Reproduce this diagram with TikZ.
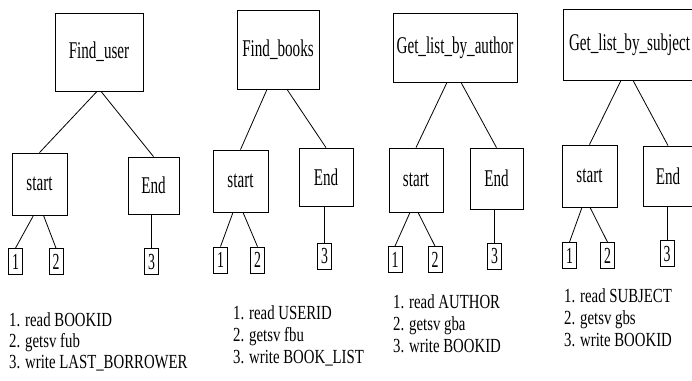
\documentclass[tikz,border=0pt]{standalone}
\usepackage{fontspec}
\usepackage{graphicx}
\setmainfont{Liberation Serif}
\newcommand{\lbltxt}[1]{\scalebox{0.63}[1]{\fontsize{24}{24}\selectfont #1}}
\newcommand{\digtxt}[1]{\scalebox{0.6}[1]{\fontsize{23}{23}\selectfont #1}}
\newcommand{\lsttxt}[1]{\scalebox{0.74}[1]{\fontsize{20}{20}\selectfont #1}}
\begin{document}
\begin{tikzpicture}[x=1pt,y=-1pt,
  box/.style={draw, line width=0.8pt, inner sep=0pt},
  small/.style={draw, line width=0.8pt, inner sep=0pt, minimum width=14pt, minimum height=26pt},
  conn/.style={line width=0.8pt},
  item/.style={anchor=base west, inner sep=0pt}]
\useasboundingbox (0,0) rectangle (692,380);
\clip (0,0) rectangle (692,380);
% Group 1
\node[box, minimum width=88pt, minimum height=78pt] (fu) at (99,52) {\lbltxt{Find\_user}};
\node[box, minimum width=55pt, minimum height=62pt] (s1) at (39.5,184) {\lbltxt{start}};
\node[box, minimum width=51pt, minimum height=57pt] (e1) at (153.5,185.5) {\lbltxt{End}};
\node[small] (a1) at (15.5,261.5) {\digtxt{1}};
\node[small] (b1) at (56,261.5) {\digtxt{2}};
\node[small] (c1) at (151.5,261.5) {\digtxt{3}};
\draw[conn] ([xshift=-2]fu.south) -- (s1.north);
\draw[conn] ([xshift=2]fu.south) -- (e1.north);
\draw[conn] ([xshift=-6]s1.south) -- (a1.north);
\draw[conn] ([xshift=4]s1.south) -- (b1.north);
\draw[conn] (c1.north |- e1.south) -- (c1.north);
\node[item] (t11) at (9,326) {\lsttxt{1. read BOOKID}};
\node[item] (t12) at (9,347) {\lsttxt{2. getsv fub}};
\node[item] (t13) at (9,368) {\lsttxt{3. write LAST\_BORROWER}};
% Group 2
\node[box, minimum width=82pt, minimum height=79pt] (fb) at (278,49.5) {\lbltxt{Find\_books}};
\node[box, minimum width=55pt, minimum height=62pt] (s2) at (240.5,181) {\lbltxt{start}};
\node[box, minimum width=54pt, minimum height=58pt] (e2) at (326,177) {\lbltxt{End}};
\node[small] (a2) at (220.5,260) {\digtxt{1}};
\node[small] (b2) at (257.5,260) {\digtxt{2}};
\node[small] (c2) at (324.5,256) {\digtxt{3}};
\draw[conn] ([xshift=-11]fb.south) -- (s2.north);
\draw[conn] ([xshift=9]fb.south) -- (e2.north);
\draw[conn] ([xshift=-7.5]s2.south) -- (a2.north);
\draw[conn] ([xshift=2.5]s2.south) -- (b2.north);
\draw[conn] (c2.north |- e2.south) -- (c2.north);
\node[item] (t21) at (233,319) {\lsttxt{1. read USERID}};
\node[item] (t22) at (233,341) {\lsttxt{2. getsv fbu}};
\node[item] (t23) at (233,363) {\lsttxt{3. write BOOK\_LIST}};
% Group 3
\node[box, minimum width=124pt, minimum height=69pt] (ga) at (455,47.5) {\lbltxt{Get\_list\_by\_author}};
\node[box, minimum width=54pt, minimum height=64pt] (s3) at (416,180) {\lbltxt{start}};
\node[box, minimum width=53pt, minimum height=61pt] (e3) at (496.5,178.5) {\lbltxt{End}};
\node[small] (a3) at (395,259.5) {\digtxt{1}};
\node[small] (b3) at (435,259.5) {\digtxt{2}};
\node[small] (c3) at (494.5,256) {\digtxt{3}};
\draw[conn] ([xshift=-8]ga.south) -- (s3.north);
\draw[conn] ([xshift=6]ga.south) -- (e3.north);
\draw[conn] ([xshift=-6]s3.south) -- (a3.north);
\draw[conn] ([xshift=2]s3.south) -- (b3.north);
\draw[conn] (c3.north |- e3.south) -- (c3.north);
\node[item] (t31) at (393,308) {\lsttxt{1. read AUTHOR}};
\node[item] (t32) at (393,330) {\lsttxt{2. getsv gba}};
\node[item] (t33) at (393,352) {\lsttxt{3. write BOOKID}};
% Group 4
\node[box, minimum width=133pt, minimum height=71pt] (gs) at (629.5,44.5) {\lbltxt{Get\_list\_by\_subject}};
\node[box, minimum width=55pt, minimum height=62pt] (s4) at (589.5,176) {\lbltxt{start}};
\node[box, minimum width=50pt, minimum height=60pt] (e4) at (668,176) {\lbltxt{End}};
\node[small] (a4) at (569.5,255.5) {\digtxt{1}};
\node[small] (b4) at (607.5,255.5) {\digtxt{2}};
\node[small] (c4) at (667,253.5) {\digtxt{3}};
\draw[conn] ([xshift=-8.5]gs.south) -- (s4.north);
\draw[conn] ([xshift=3.5]gs.south) -- (e4.north);
\draw[conn] ([xshift=-7.5]s4.south) -- (a4.north);
\draw[conn] ([xshift=0.5]s4.south) -- (b4.north);
\draw[conn] (c4.north |- e4.south) -- (c4.north);
\node[item] (t41) at (564,302) {\lsttxt{1. read SUBJECT}};
\node[item] (t42) at (564,324) {\lsttxt{2. getsv gbs}};
\node[item] (t43) at (564,346) {\lsttxt{3. write BOOKID}};
\end{tikzpicture}
\end{document}
